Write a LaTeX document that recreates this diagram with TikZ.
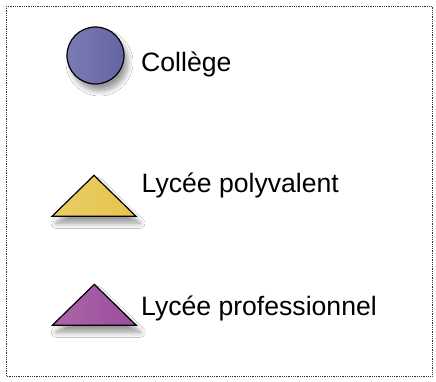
\documentclass[tikz,border=0pt]{standalone}
\usepackage{fontspec}
\setmainfont{Liberation Sans}
\usepackage{tikz}
\usetikzlibrary{shapes.geometric,positioning,shadows.blur}

\definecolor{collegeblue}{RGB}{100,100,165}
\definecolor{polyyellow}{RGB}{230,196,76}
\definecolor{prounpurple}{RGB}{156,76,156}

\begin{document}
\begin{tikzpicture}[
    x=1pt, y=-1pt,
    every node/.style={font=\fontsize{26.6}{30}\selectfont},
    legendframe/.style={draw=black!80, densely dotted, line width=0.8pt, fill=white},
    symb/.style={draw=black, line width=1.2pt, inner sep=0pt,
        blur shadow={shadow xshift=4pt, shadow yshift=-7pt, shadow blur radius=5pt,
            shadow blur steps=10, shadow opacity=40}},
    circlesymb/.style={symb, circle, minimum size=57pt, left color=#1!85!white, right color=#1},
    trianglesymb/.style={symb, isosceles triangle, isosceles triangle apex angle=91,
        isosceles triangle stretches, shape border rotate=90,
        minimum width=84pt, minimum height=41pt, left color=#1!85!white, right color=#1},
    legendtext/.style={anchor=base west, inner sep=0pt}
]

\useasboundingbox (0,0) rectangle (436,382);
\draw[legendframe] (6,6) rectangle (432,376);

% symbols
\node[circlesymb=collegeblue] (college) at (95.5,55.5) {};
\node[trianglesymb=polyyellow, anchor=apex] (polyvalent) at (94,174.5) {};
\node[trianglesymb=prounpurple, anchor=apex] (professionnel) at (94.3,283.5) {};

% labels
\node[legendtext] (lcollege) at (141,71.5) {Collège};
\node[legendtext] (lpolyvalent) at (141.5,193) {Lycée polyvalent};
\node[legendtext] (lprofessionnel) at (141,315.5) {Lycée professionnel};

\end{tikzpicture}
\end{document}
